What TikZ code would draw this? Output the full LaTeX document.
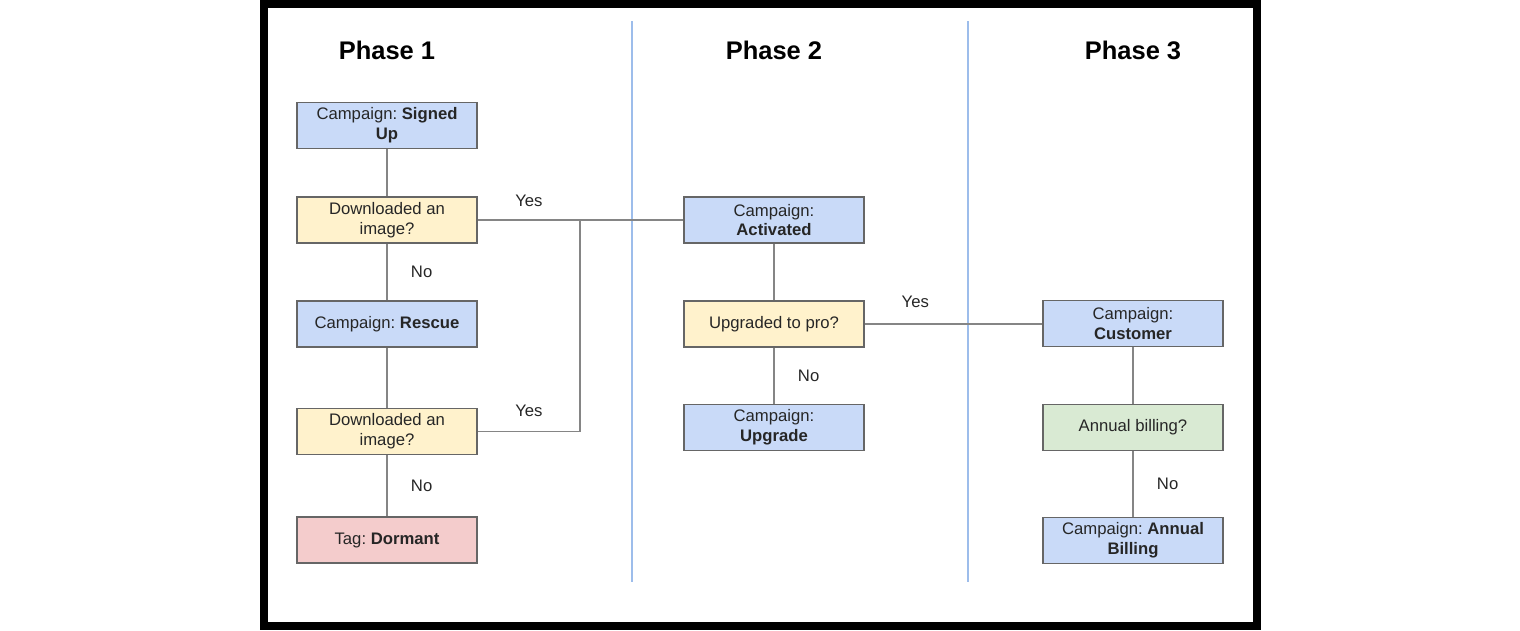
\documentclass[tikz,border=0pt]{standalone}
\usepackage{fontspec}
\setmainfont{Liberation Sans}
\usepackage{xcolor}
\usepackage{tikz}
\frenchspacing

\definecolor{campblue}{HTML}{C9DAF8}
\definecolor{askyellow}{HTML}{FFF2CC}
\definecolor{tagred}{HTML}{F4CCCC}
\definecolor{askgreen}{HTML}{D9EAD3}
\definecolor{boxline}{HTML}{666666}
\definecolor{linkgray}{HTML}{858585}
\definecolor{phaseblue}{HTML}{9DBDEB}

\tikzset{
    box/.style={draw=boxline, line width=0.9pt, minimum width=3.6cm, minimum height=0.92cm,
        inner sep=0pt, align=center, text=black!85, font=\fontsize{9.5}{11.2}\selectfont},
    campaign/.style={box, fill=campblue},
    question/.style={box, fill=askyellow},
    dormant/.style={box, fill=tagred},
    billing/.style={box, fill=askgreen},
    link/.style={linkgray, line width=1.1pt},
    answer/.style={inner sep=0pt, text=black!85, font=\fontsize{9.5}{11.2}\selectfont},
    phase/.style={font=\fontsize{14.5}{17}\selectfont\bfseries},
    divider/.style={phaseblue, line width=1.2pt}
}

\begin{document}
\begin{tikzpicture}[x=0.02cm, y=-0.02cm]
    \useasboundingbox (0,0) rectangle (1520,630);
    % Frame and phase dividers
    \draw[line width=4.3pt] (263.75,3.75) rectangle (1257.25,626.25);
    \draw[divider] (632,21) -- (632,582);
    \draw[divider] (968,21) -- (968,582);

    % Titles
    \node[phase] (title1) at (387,50) {Phase 1};
    \node[phase] (title2) at (774,50) {Phase 2};
    \node[phase] (title3) at (1133,50) {Phase 3};

    % Phase 1
    \node[campaign] (signedup) at (387,125.5) {Campaign: \textbf{Signed}\\\textbf{Up}};
    \node[question] (download1) at (387,220) {Downloaded an\\image?};
    \node[campaign] (rescue) at (387,324) {Campaign: \textbf{Rescue}};
    \node[question] (download2) at (387,431.5) {Downloaded an\\image?};
    \node[dormant] (dormant) at (387,540) {Tag: \textbf{Dormant}};

    % Phase 2
    \node[campaign] (activated) at (774,220) {Campaign:\\\textbf{Activated}};
    \node[question] (pro) at (774,324) {Upgraded to pro?};
    \node[campaign] (upgrade) at (774,427.5) {Campaign:\\\textbf{Upgrade}};

    % Phase 3
    \node[campaign] (customer) at (1133,323.5) {Campaign:\\\textbf{Customer}};
    \node[billing] (annual) at (1133,427.5) {Annual billing?};
    \node[campaign] (annualbilling) at (1133,540.5) {Campaign: \textbf{Annual}\\\textbf{Billing}};

    % Links
    \coordinate (join) at (580,220);
    \draw[link] (signedup) -- (download1);
    \draw[link] (download1) -- node[answer, right=0.46cm] {No} (rescue);
    \draw[link] (rescue) -- (download2);
    \draw[link] (download2) -- node[answer, right=0.46cm] {No} (dormant);
    \draw[link] (download1.east) -- node[answer, above=7pt] {Yes} (join) -- (activated.west);
    \draw[link] (download2.east) -- node[answer, above=8pt] {Yes} (download2.east -| join) -- (join);

    \draw[link] (activated) -- (pro);
    \draw[link] (pro) -- node[answer, right=0.46cm] {No} (upgrade);
    \draw[link] (pro.east) -- node[answer, above=9pt, pos=0.285] {Yes} (customer.west |- pro.east);

    \draw[link] (customer) -- (annual);
    \draw[link] (annual) -- node[answer, right=0.46cm] {No} (annualbilling);
\end{tikzpicture}
\end{document}
